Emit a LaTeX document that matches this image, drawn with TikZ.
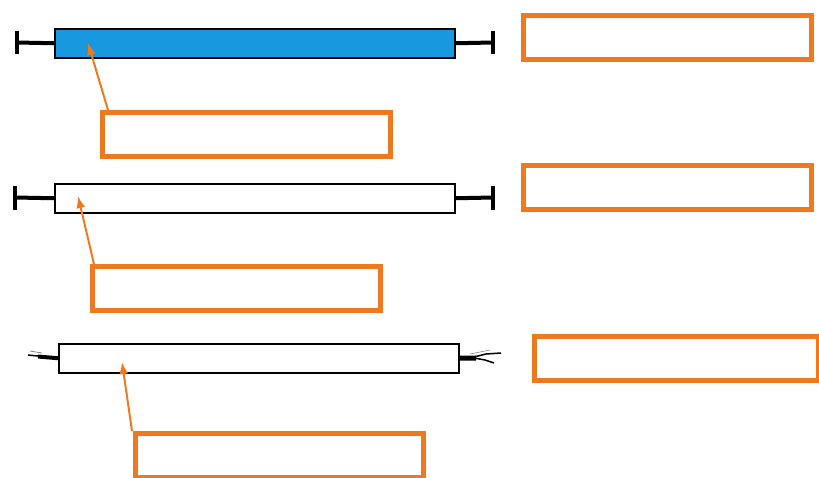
\documentclass[tikz,border=0pt]{standalone}
\usetikzlibrary{arrows.meta}
\definecolor{orng}{RGB}{240,120,30}
\definecolor{barblue}{RGB}{24,152,222}
\begin{document}
\begin{tikzpicture}[x=1pt,y=-1pt,
  lbl/.style={draw=orng,line width=4.8pt,fill=white,minimum width=288pt,minimum height=44pt,inner sep=0pt,anchor=north west},
  bar/.style={draw=black,line width=1.5pt,minimum width=400pt,minimum height=29pt,inner sep=0pt,anchor=north west},
  pin/.style={orng,line width=2pt,-{Latex[length=12pt,width=9pt]}},
  tend/.style={black,line width=4pt}]
\useasboundingbox (0,0) rectangle (819,477);
% bar 1
\node[bar,fill=barblue] (b1) at (54,28) {};
\draw[tend] (b1.west) -- (17,42.5);
\draw[tend] (17,31) -- (17,54);
\draw[tend] (b1.east) -- (493,42.5);
\draw[tend] (493,31) -- (493,54);
\node[lbl] (r1) at (521,13) {};
\node[lbl] (d1) at (100,110) {};
\coordinate (t1) at (88,43);
\draw[pin] ([xshift=8pt]d1.north west) -- (t1);
% bar 2
\node[bar,fill=white] (b2) at (54,183) {};
\draw[tend] (b2.west) -- (15,197.5);
\draw[tend] (15,186) -- (15,210);
\draw[tend] (b2.east) -- (493,197.5);
\draw[tend] (493,186) -- (493,210);
\node[lbl] (r2) at (521,163) {};
\node[lbl] (d2) at (90,264) {};
\coordinate (t2) at (78,196);
\draw[pin] ([xshift=4pt]d2.north west) -- (t2);
% bar 3
\node[bar,fill=white] (b3) at (58,343) {};
\draw[black,line width=4pt] (b3.west) -- (38,356.5);
\draw[black,line width=1.5pt] (38,356) -- (28,355);
\draw[black!60,line width=0.6pt] (30,351) -- (42,353);
\draw[black,line width=5pt] (b3.east) -- (476,358);
\draw[black,line width=1.5pt] (474,357) -- (486,354) -- (501,353);
\draw[black,line width=1.5pt] (474,358) -- (485,360) -- (494,363);
\draw[black!50,line width=0.6pt] (470,354) -- (490,350);
\node[lbl,minimum width=284pt] (r3) at (532,334) {};
\node[lbl] (d3) at (133,431) {};
\coordinate (t3) at (122,362);
\draw[pin] ([xshift=-1pt]d3.north west) -- (t3);
\end{tikzpicture}
\end{document}
